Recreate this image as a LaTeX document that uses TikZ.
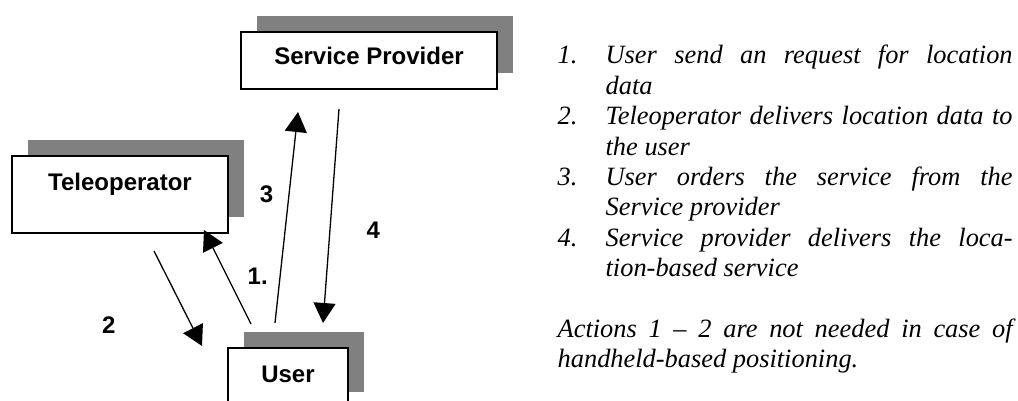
\documentclass[tikz,border=0pt]{standalone}
\usepackage{fontspec}
\setmainfont{Liberation Serif}
\setsansfont{Liberation Sans}
\usetikzlibrary{positioning, arrows.meta, shadows}

% one numbered entry of the legend, number hanging in the margin
\newcommand{\legenditem}[2]{\noindent\hangindent=24pt\hangafter=1%
  \makebox[24pt][l]{#1}#2\par}

\begin{document}
\begin{tikzpicture}[x=0.5pt,y=-0.5pt,>={Triangle[length=10pt,width=11pt]},line width=0.65pt,
    party/.style={draw,line width=1pt,fill=white,inner sep=0pt,
      font=\sffamily\bfseries\fontsize{12}{14}\selectfont,text height=9pt,text depth=5pt,
      drop shadow={shadow xshift=8pt,shadow yshift=8pt,fill=gray,opacity=1}},
    num/.style={font=\sffamily\bfseries\fontsize{12}{14}\selectfont,inner sep=0pt},
    legend/.style={text width=227.5pt,align=justify,inner sep=0pt,
      font=\itshape\fontsize{13.2}{15.2}\selectfont}]

    \useasboundingbox (0,0) rectangle (1018,401);
    \clip (0,0) rectangle (1018,401);

    \node[party,minimum width=108pt,minimum height=38.5pt,text depth=13pt] (tele) at (120,194.5) {Teleoperator};
    \node[party,minimum width=128pt,minimum height=28.5pt] (prov) at (369,60.5) {Service Provider};
    \node[party,minimum width=60pt,minimum height=30pt] (user) at (288,378) {User};

    % the four messages
    \draw[->] ([shift={(-37,-23)}]user.north) -- node[num,pos=.51,right=10pt] (l1) {1.} ([shift={(-25,-4)}]tele.south east);
    \draw[->] ([shift={(34,17)}]tele.south) -- node[num,pos=.78,left=37.6pt] (l2) {2} ([shift={(-25,-1)}]user.north west);
    \draw[->] ([shift={(-13,-24)}]user.north) -- node[num,pos=.61,left=7.6pt] (l3) {3} ([shift={(-71,22)}]prov.south);
    \draw[->] ([shift={(-30,19)}]prov.south) -- node[num,pos=.565,right=18pt] (l4) {4} ([shift={(35,-24)}]user.north);

    \node[legend,anchor=base west] (steps) at (557,64) {%
      \legenditem{1.}{User send an request for location\linebreak data}%
      \legenditem{2.}{Teleoperator delivers location data to\linebreak the user}%
      \legenditem{3.}{User orders the service from the\linebreak Service provider}%
      \legenditem{4.}{Service provider delivers the loca-\linebreak tion-based service}%
      \vspace{\baselineskip}%
      \noindent Actions 1 \textendash{} 2 are not needed in case of\linebreak handheld-based positioning.};
\end{tikzpicture}
\end{document}
